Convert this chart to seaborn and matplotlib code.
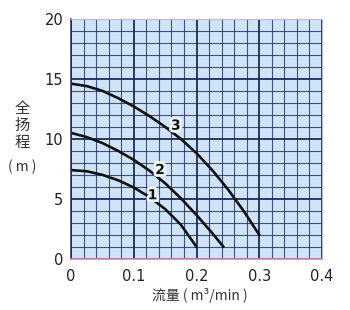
import matplotlib
matplotlib.use("Agg")
import matplotlib.pyplot as plt
import matplotlib.patheffects as pe
import seaborn as sns
import pandas as pd
import numpy as np

# Data
flow_1 = [0.0, 0.025, 0.05, 0.075, 0.1, 0.125, 0.15, 0.175, 0.2]
head_1 = [7.4, 7.3, 7.0, 6.55, 5.95, 5.15, 4.15, 2.85, 1.0]

flow_2 = [0.0, 0.025, 0.05, 0.075, 0.1, 0.125, 0.15, 0.175, 0.2, 0.225, 0.243]
head_2 = [10.5, 10.15, 9.65, 9.0, 8.25, 7.35, 6.3, 5.05, 3.65, 2.15, 1.0]

flow_3 = [0.0, 0.025, 0.05, 0.075, 0.1, 0.125, 0.15, 0.175, 0.2, 0.225, 0.25, 0.275, 0.3]
head_3 = [14.6, 14.4, 14.0, 13.4, 12.7, 11.9, 11.0, 10.0, 8.8, 7.4, 5.8, 4.0, 2.0]

curve_names = ["1", "2", "3"]
label_x = [0.130, 0.142, 0.167]
label_y = [5.3, 7.4, 11.1]

x_ticks = [0, 0.1, 0.2, 0.3, 0.4]
x_tick_labels = ["0", "0.1", "0.2", "0.3", "0.4"]
y_ticks = [0, 5, 10, 15, 20]

df = pd.concat([
    pd.DataFrame({"flow": flow_1, "head": head_1, "curve": "1"}),
    pd.DataFrame({"flow": flow_2, "head": head_2, "curve": "2"}),
    pd.DataFrame({"flow": flow_3, "head": head_3, "curve": "3"}),
])

sns.set_style("white")
plt.rcParams['font.family'] = ['DejaVu Sans', 'Noto Sans CJK SC']

fig = plt.figure(figsize=(3.5, 3.1), dpi=100)
ax = fig.add_axes([0.203, 0.165, 0.717, 0.774])
ax.set_facecolor("#cfe5f7")

grid_col = "#1e2a5c"
ax.set_xlim(0, 0.4)
ax.set_ylim(0, 20)
ax.set_xticks(x_ticks)
ax.set_xticklabels(x_tick_labels)
ax.set_yticks(y_ticks)
ax.set_xticks(np.arange(0, 0.4001, 0.02), minor=True)
ax.set_yticks(np.arange(0, 20.001, 1), minor=True)
ax.grid(which="minor", color=grid_col, linewidth=0.8, alpha=0.8)
ax.grid(which="major", color=grid_col, linewidth=1.3)
ax.set_axisbelow(True)
ax.tick_params(which="both", length=0)
ax.tick_params(axis="y", pad=5.5, labelsize=10.5, labelcolor="#222222")
ax.tick_params(axis="x", pad=7, labelsize=10.5, labelcolor="#222222")

for s in ["top", "right"]:
    ax.spines[s].set_color("#b8b8e0")
    ax.spines[s].set_linewidth(0.8)
ax.spines["left"].set_color(grid_col)
ax.spines["left"].set_linewidth(1.1)
ax.spines["bottom"].set_color("#d48ab8")
ax.spines["bottom"].set_linewidth(1.2)

sns.lineplot(data=df, x="flow", y="head", units="curve", estimator=None,
             color="#111111", linewidth=1.9, sort=True, ax=ax, legend=False)

for name, lx, ly in zip(curve_names, label_x, label_y):
    ax.text(lx, ly, name, fontsize=10, fontweight="bold", color="#111111",
            ha="center", va="center",
            path_effects=[pe.withStroke(linewidth=4, foreground="#eef6fc")])

ax.set_xlabel("")
ax.set_ylabel("")
fig.text(0.571, 0.046, "流量 ( m³/min )", ha="center", va="center",
         fontsize=10, color="#333333",
         family=['Noto Sans CJK SC', 'DejaVu Sans'])
fig.text(0.063, 0.594, "全\n扬\n程", ha="center", va="center",
         fontsize=11, color="#333333", linespacing=1.0,
         family=['Noto Sans CJK SC', 'DejaVu Sans'])
fig.text(0.063, 0.461, "( m )", ha="center", va="center",
         fontsize=10, color="#333333",
         family=['Noto Sans CJK SC', 'DejaVu Sans'])

fig.savefig("out.png", dpi=100)
